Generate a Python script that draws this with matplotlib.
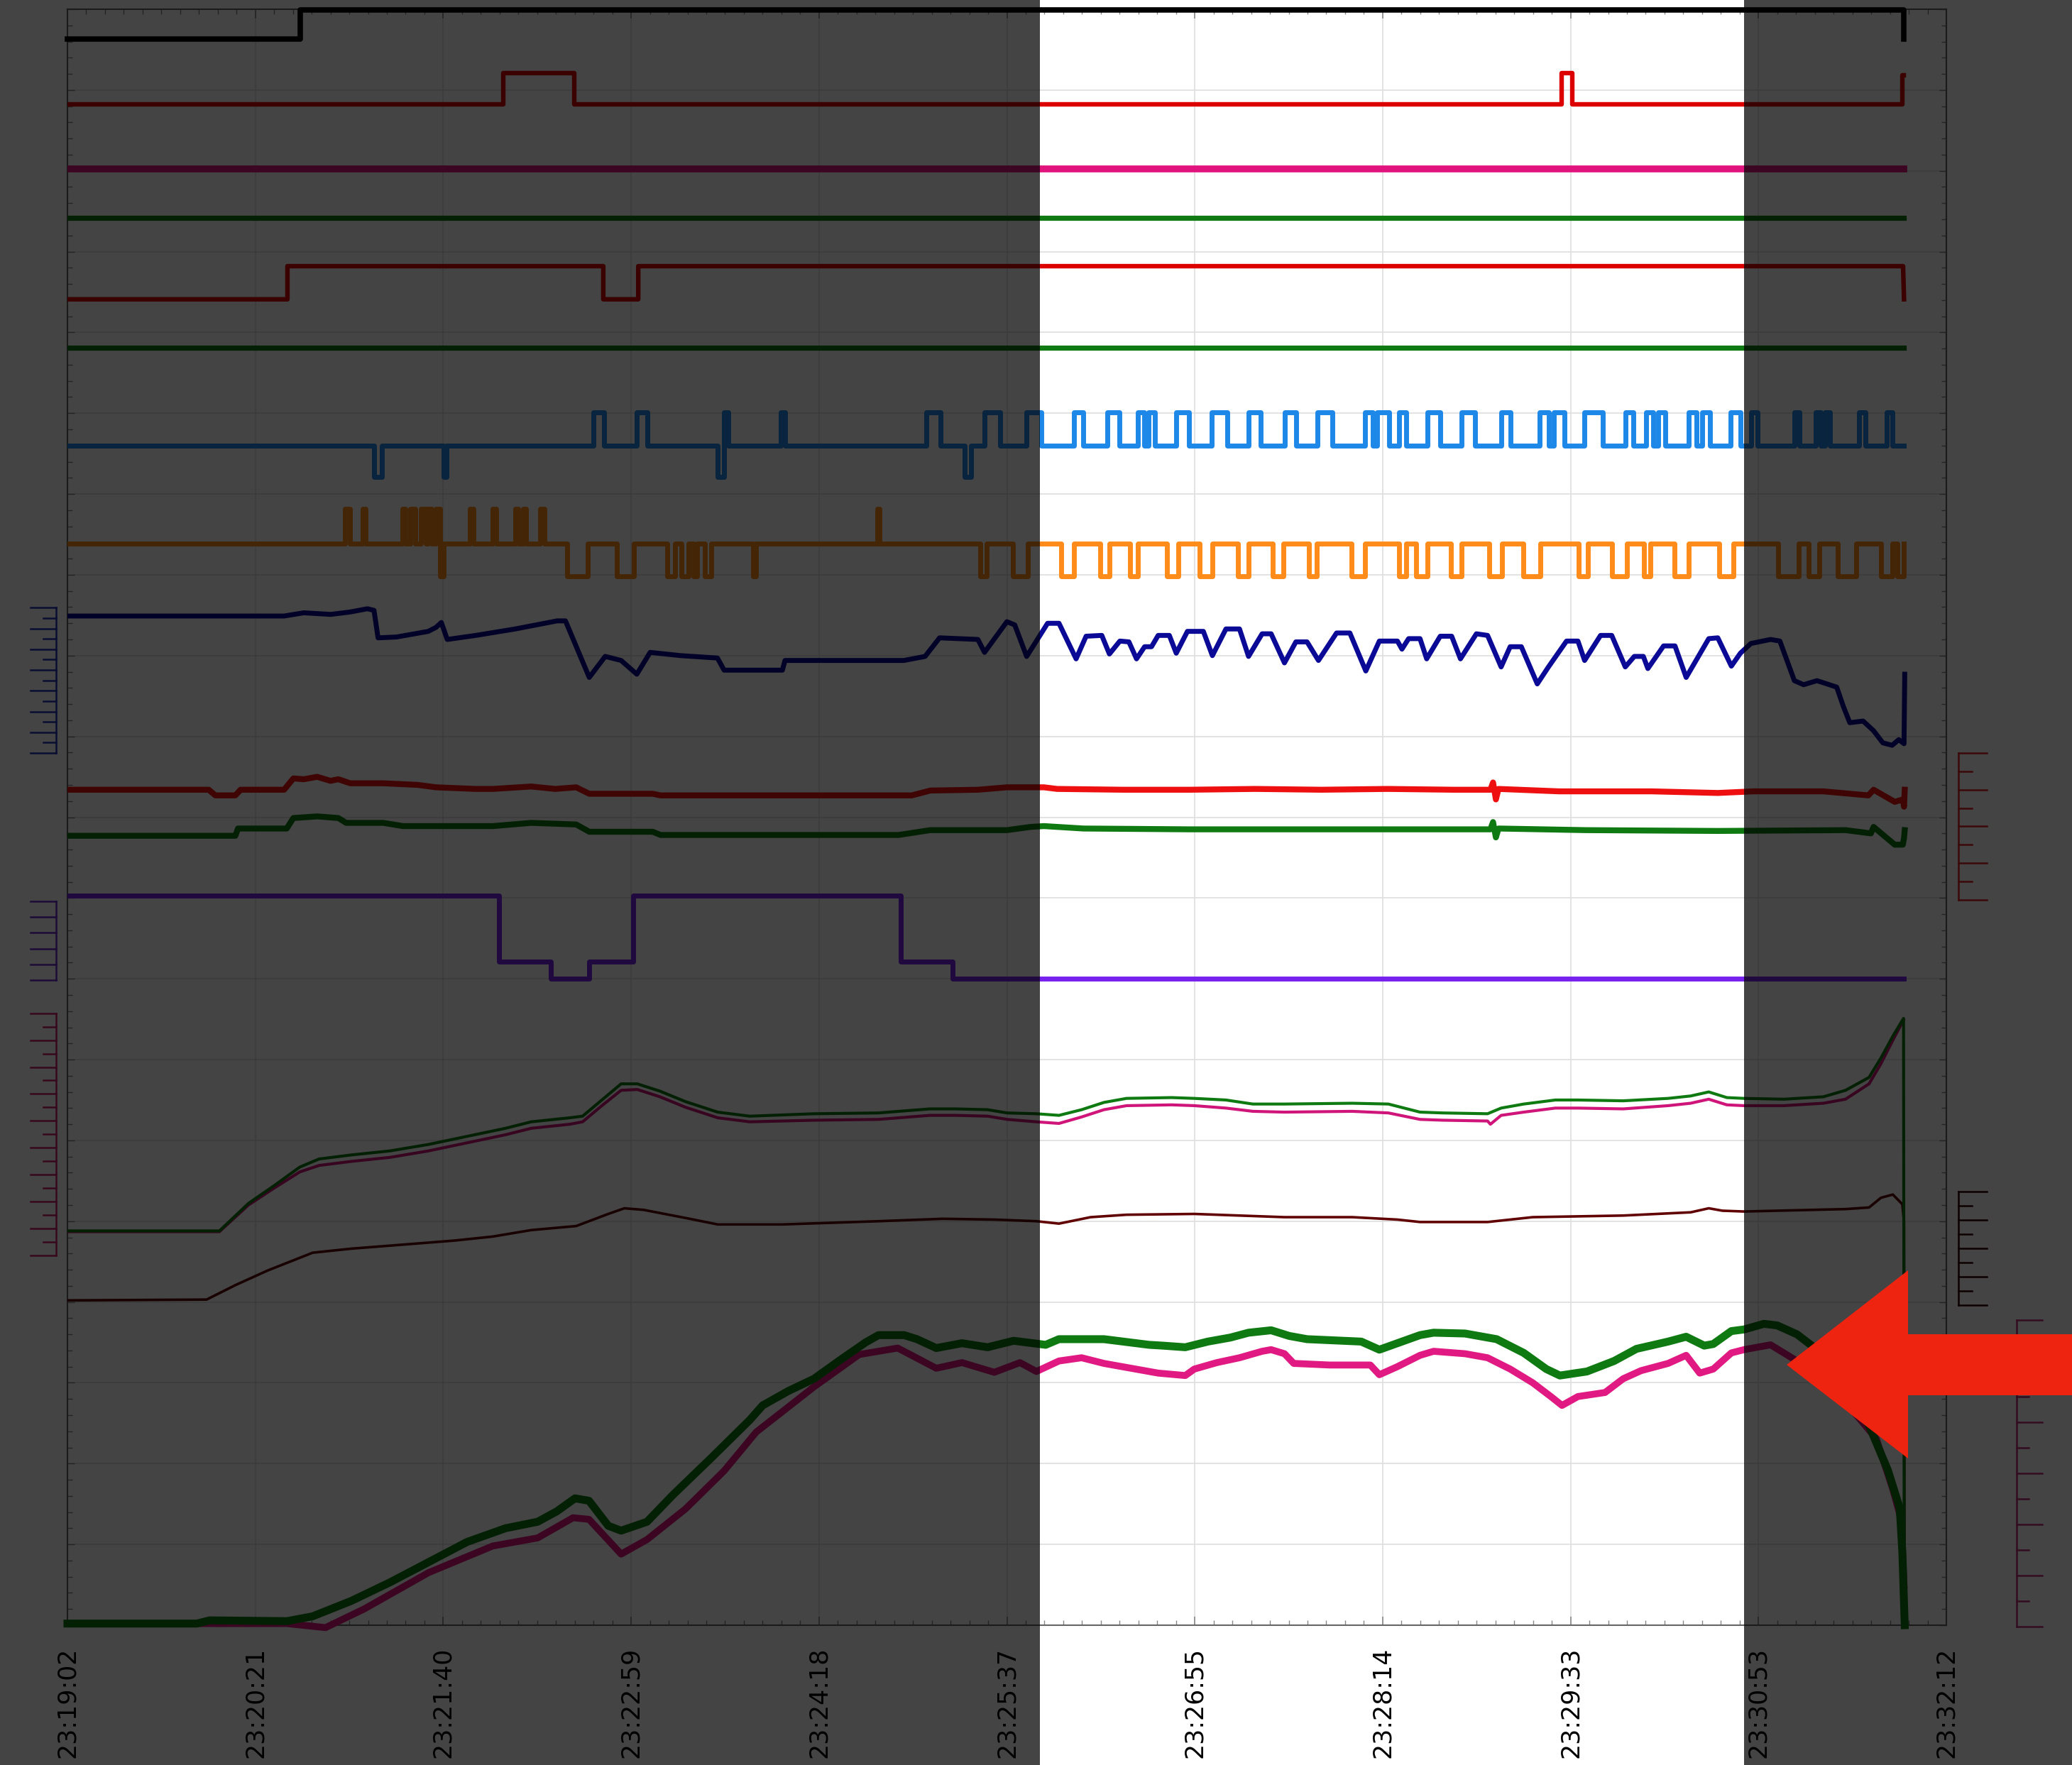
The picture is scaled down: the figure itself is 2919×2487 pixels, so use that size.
import numpy as np
import matplotlib
matplotlib.use("Agg")
import matplotlib.pyplot as plt
from matplotlib.patches import Rectangle, Polygon
from matplotlib.lines import Line2D
from matplotlib.ticker import MultipleLocator

plt.rcParams['font.family'] = ['DejaVu Sans']

# ====================== DATA (time in s after 23:19:02, level in grid divisions) ======================
tick_seconds = [0, 79, 158, 237, 316, 395, 474, 553, 632, 711, 790]
tick_labels = ['23:19:02', '23:20:21', '23:21:40', '23:22:59', '23:24:18', '23:25:37',
               '23:26:55', '23:28:14', '23:29:33', '23:30:53', '23:32:12']
t_end = 772.2

# digital traces (edge times / levels)
black_t = [0, 97.8, 97.8, 772.2, 772.2]
black_v = [19.63, 19.63, 19.99, 19.99, 19.63]

red1_t = [0, 183.3, 183.3, 213.2, 213.2, 628.3, 628.3, 632.8, 632.8, 771.6, 771.6, 772.2]
red1_v = [18.82, 18.82, 19.21, 19.21, 18.82, 18.82, 19.21, 19.21, 18.82, 18.82, 19.18, 19.18]

magenta_flat = 18.02
green_flat_a = 17.42
green_flat_b = 15.81

red2_t = [0, 92.5, 92.5, 225.3, 225.3, 240.0, 240.0, 771.8, 772.2]
red2_v = [16.41, 16.41, 16.82, 16.82, 16.41, 16.41, 16.82, 16.82, 16.41]

blue_base, blue_hi, blue_lo = 14.60, 15.01, 14.21
blue_up_start = [221.1, 239.4, 276.1, 300.0, 361.1, 385.6, 403.3, 423.3, 437.2, 450.0, 454.4, 466.1,
                 481.1, 496.7, 511.7, 525.6, 545.6, 550.6, 560.0, 571.7, 586.1, 602.8, 618.9, 625.0,
                 637.8, 655.0, 663.9, 668.9, 681.7, 687.2, 699.4, 707.8, 726.1, 735.0, 738.9, 753.3, 765.0]
blue_up_end = [225.6, 243.9, 277.8, 301.7, 367.2, 392.2, 409.4, 427.2, 442.2, 452.8, 457.2, 471.7,
               487.8, 501.7, 516.7, 531.7, 548.9, 555.6, 562.8, 577.2, 591.7, 606.7, 622.8, 629.4,
               645.6, 658.3, 666.7, 671.7, 685.0, 690.6, 703.3, 710.6, 728.3, 737.2, 741.1, 756.1, 767.2]
blue_dn_start = [128.9, 158.3, 273.3, 377.2]
blue_dn_end = [132.2, 159.4, 276.1, 380.0]

orange_base, orange_hi, orange_lo = 13.39, 13.82, 12.98
orange_up_start = [116.7, 124.2, 140.8, 144.2, 148.6, 151.7, 155.0, 169.2, 178.9, 188.3, 191.7, 198.9, 340.6]
orange_up_end = [118.9, 125.3, 142.2, 146.1, 150.6, 153.1, 156.7, 170.6, 180.3, 189.4, 192.8, 200.6, 341.4]
orange_dn_start = [156.7, 210.0, 231.1, 252.2, 258.3, 263.3, 268.1, 288.3, 383.9, 397.5, 417.8, 434.2,
                   446.7, 462.2, 476.1, 492.2, 506.7, 521.9, 539.8, 560.0, 567.2, 581.7, 597.8, 612.2,
                   635.4, 649.4, 662.8, 675.6, 694.4, 719.2, 732.2, 744.4, 762.5, 769.4]
orange_dn_end = [158.3, 218.9, 238.3, 255.6, 261.1, 264.7, 270.6, 289.4, 386.4, 403.9, 423.3, 438.1,
                 450.0, 467.2, 481.4, 496.7, 511.1, 525.3, 545.6, 562.8, 571.7, 586.1, 603.3, 619.4,
                 639.4, 655.6, 665.6, 681.7, 700.6, 727.8, 736.7, 752.2, 767.2, 772.2]

# analog traces
navy_t = [0, 91.1, 99.4, 110.6, 118.9, 126.1, 128.9, 130.6, 138.3, 151.7, 155.0, 157.2, 159.7, 171.7,
          188.3, 205.9, 209.4, 219.4, 226.1, 232.8, 239.4, 245.0, 257.8, 273.3, 276.1, 300.6, 301.7,
          351.7, 360.6, 366.7, 382.8, 385.6, 395.0, 398.3, 403.3, 407.4, 412.1, 416.9, 424.1, 428.3,
          434.9, 438.1, 442.5, 446.3, 449.5, 452.9, 455.8, 458.6, 463.3, 466.2, 470.9, 477.6, 481.4,
          487.1, 492.8, 496.6, 502.3, 506.1, 511.7, 516.5, 521.2, 526.0, 533.6, 539.2, 545.9, 551.6,
          559.2, 561.1, 563.9, 568.7, 571.5, 577.2, 582.0, 585.7, 592.4, 597.1, 602.8, 606.6, 611.3,
          618.0, 622.7, 630.3, 635.1, 637.9, 644.6, 649.3, 655.0, 658.8, 662.6, 664.5, 671.1, 675.9,
          680.6, 690.1, 693.9, 699.6, 703.4, 707.8, 716.1, 720.0, 726.1, 730.0, 735.6, 743.9, 746.7,
          749.4, 755.0, 759.4, 763.3, 767.2, 770.0, 772.2, 772.5]
navy_v = [12.49, 12.49, 12.53, 12.51, 12.54, 12.58, 12.56, 12.22, 12.23, 12.30, 12.35, 12.41, 12.20, 12.25,
          12.33, 12.43, 12.43, 11.73, 11.99, 11.94, 11.77, 12.04, 12.00, 11.97, 11.82, 11.82, 11.94,
          11.94, 11.99, 12.22, 12.20, 12.04, 12.42, 12.38, 11.99, 12.18, 12.40, 12.40, 11.96, 12.24,
          12.25, 12.02, 12.18, 12.17, 11.96, 12.11, 12.11, 12.25, 12.25, 12.03, 12.30, 12.30, 12.00,
          12.33, 12.33, 11.99, 12.27, 12.27, 11.91, 12.17, 12.17, 11.94, 12.28, 12.28, 11.81, 12.18,
          12.18, 12.08, 12.21, 12.21, 11.96, 12.24, 12.24, 11.96, 12.27, 12.25, 11.86, 12.11, 12.11,
          11.65, 11.86, 12.18, 12.18, 11.94, 12.25, 12.25, 11.86, 11.99, 11.99, 11.84, 12.12, 12.12,
          11.73, 12.21, 12.22, 11.87, 12.03, 12.15, 12.20, 12.18, 11.69, 11.64, 11.69, 11.61, 11.37,
          11.17, 11.19, 11.07, 10.92, 10.89, 10.96, 10.91, 11.77]

red_t = [0, 59.4, 62.2, 70.6, 72.8, 91.1, 95.0, 99.4, 105.0, 110.6, 113.9, 118.9, 132.8, 147.2, 155.0,
         171.7, 178.9, 195.0, 205.0, 213.9, 219.4, 246.1, 249.4, 305.0, 355.0, 362.8, 382.8, 395.0,
         410.6, 416.1, 443.9, 471.7, 499.4, 527.2, 555.0, 582.8, 598.3, 599.4, 600.6, 601.7, 627.2,
         666.1, 693.9, 708.9, 738.3, 757.2, 759.4, 768.3, 771.7, 772.2, 772.5]
red_v = [10.34, 10.34, 10.27, 10.27, 10.34, 10.34, 10.48, 10.47, 10.50, 10.45, 10.47, 10.42, 10.42, 10.40,
         10.37, 10.35, 10.35, 10.38, 10.35, 10.37, 10.29, 10.29, 10.27, 10.27, 10.27, 10.33, 10.34,
         10.37, 10.37, 10.35, 10.34, 10.34, 10.35, 10.34, 10.35, 10.34, 10.34, 10.43, 10.22, 10.35,
         10.32, 10.32, 10.30, 10.32, 10.32, 10.27, 10.34, 10.19, 10.22, 10.13, 10.34]

grn_t = [0, 70.6, 71.7, 92.2, 95.0, 105.0, 113.9, 117.2, 132.8, 141.1, 178.9, 195.0, 213.9, 219.4, 246.1,
         249.4, 349.4, 362.8, 395.0, 405.0, 410.6, 427.2, 471.7, 527.2, 598.3, 599.4, 600.6, 601.7,
         638.3, 693.9, 747.6, 758.3, 759.4, 768.3, 771.7, 772.2, 772.5]
grn_v = [9.77, 9.77, 9.86, 9.86, 9.99, 10.01, 9.99, 9.93, 9.93, 9.89, 9.89, 9.93, 9.91, 9.82, 9.82, 9.78,
         9.78, 9.84, 9.84, 9.88, 9.89, 9.86, 9.85, 9.85, 9.85, 9.94, 9.75, 9.86, 9.84, 9.83, 9.84, 9.80,
         9.88, 9.66, 9.66, 9.74, 9.84]

purple_t = [0, 181.4, 181.4, 203.1, 203.1, 219.4, 219.4, 237.8, 237.8, 350.4, 350.4, 372.1, 372.1, 772.2]
purple_v = [9.03, 9.03, 8.21, 8.21, 8.00, 8.00, 8.21, 8.21, 9.03, 9.03, 8.21, 8.21, 8.00, 8.00]

tg_t = [0, 63.9, 76.1, 86.9, 97.7, 105.8, 119.3, 135.6, 151.8, 168.0, 184.2, 195.0, 211.2, 216.6, 224.7,
        232.8, 239.6, 249.1, 259.9, 273.4, 286.9, 313.9, 341.0, 362.6, 373.4, 386.9, 395.1, 407.4, 416.9,
        426.4, 435.8, 445.3, 464.3, 473.8, 487.1, 498.4, 511.7, 540.2, 555.4, 568.7, 578.2, 597.1, 602.8,
        612.3, 625.6, 635.1, 654.1, 673.0, 682.5, 690.1, 697.7, 704.9, 721.7, 738.3, 747.6, 757.5, 762.5,
        767.5, 772.0, 772.3]
tg_v = [4.88, 4.88, 5.22, 5.44, 5.67, 5.77, 5.82, 5.87, 5.95, 6.05, 6.15, 6.23, 6.28, 6.30, 6.50, 6.70,
        6.70, 6.61, 6.48, 6.35, 6.30, 6.33, 6.34, 6.39, 6.39, 6.38, 6.34, 6.33, 6.31, 6.38, 6.47, 6.52,
        6.53, 6.52, 6.50, 6.45, 6.45, 6.46, 6.45, 6.35, 6.34, 6.33, 6.40, 6.45, 6.50, 6.50, 6.49, 6.52,
        6.55, 6.60, 6.53, 6.52, 6.51, 6.54, 6.62, 6.78, 7.02, 7.29, 7.51, 0.0]

tm_t = [0, 63.9, 76.1, 86.9, 97.7, 105.8, 119.3, 135.6, 151.8, 168.0, 184.2, 195.0, 211.2, 216.6, 224.7,
        232.8, 239.6, 249.1, 259.9, 273.4, 286.9, 313.9, 341.0, 362.6, 373.4, 386.9, 395.1, 407.4, 416.9,
        426.4, 435.8, 445.3, 464.3, 473.8, 487.1, 498.4, 511.7, 540.2, 555.4, 568.7, 578.2, 597.1, 598.3,
        602.8, 612.3, 625.6, 635.1, 654.1, 673.0, 682.5, 690.1, 697.7, 704.9, 721.7, 738.3, 747.6, 757.5,
        762.5, 767.5, 772.0]
tm_v = [4.87, 4.87, 5.20, 5.41, 5.61, 5.69, 5.74, 5.79, 5.87, 5.97, 6.07, 6.15, 6.20, 6.23, 6.43, 6.62,
        6.63, 6.54, 6.41, 6.28, 6.23, 6.25, 6.26, 6.31, 6.31, 6.30, 6.26, 6.23, 6.21, 6.29, 6.38, 6.43,
        6.44, 6.43, 6.40, 6.36, 6.35, 6.36, 6.34, 6.26, 6.25, 6.24, 6.20, 6.31, 6.35, 6.40, 6.40, 6.39,
        6.43, 6.46, 6.51, 6.44, 6.43, 6.43, 6.46, 6.51, 6.70, 6.95, 7.24, 7.49]

mr_t = [0, 58.5, 70.7, 84.2, 103.1, 119.3, 141.0, 162.6, 178.8, 195.0, 213.9, 227.4, 234.2, 242.3, 259.9,
        273.4, 300.4, 341.0, 368.0, 389.7, 407.4, 416.9, 430.2, 445.3, 473.8, 492.8, 511.7, 540.2, 559.2,
        568.7, 597.1, 616.1, 635.1, 654.1, 682.5, 690.1, 695.8, 704.9, 747.6, 757.5, 762.5, 767.5, 771.5,
        772.2, 772.4]
mr_v = [4.02, 4.03, 4.21, 4.39, 4.61, 4.66, 4.71, 4.76, 4.81, 4.89, 4.94, 5.09, 5.16, 5.14, 5.04, 4.96,
        4.96, 5.00, 5.03, 5.02, 5.00, 4.97, 5.05, 5.08, 5.09, 5.07, 5.05, 5.05, 5.02, 4.99, 4.99, 5.05,
        5.06, 5.07, 5.11, 5.16, 5.13, 5.12, 5.15, 5.17, 5.29, 5.33, 5.21, 4.99, 0.0]

bg_t = [0, 54.4, 59.8, 92.3, 103.1, 119.3, 135.6, 151.8, 168.0, 184.2, 197.7, 205.8, 213.4, 219.3, 227.4,
        232.8, 243.7, 254.5, 270.7, 286.9, 292.3, 303.2, 313.9, 324.8, 335.6, 341.0, 351.8, 357.2, 365.3,
        376.1, 386.9, 397.8, 405.9, 411.3, 416.9, 435.8, 454.8, 460.5, 470.0, 479.5, 489.0, 496.6, 506.1,
        513.7, 521.2, 544.0, 551.6, 559.2, 568.7, 574.4, 587.6, 600.9, 612.3, 621.8, 627.5, 638.9, 650.3,
        659.7, 673.0, 680.6, 688.2, 692.0, 699.6, 704.9, 713.3, 718.9, 727.2, 738.3, 749.4, 757.8, 765.4,
        770.4, 771.5, 772.5]
bg_v = [0.02, 0.02, 0.06, 0.05, 0.11, 0.30, 0.53, 0.78, 1.03, 1.20, 1.28, 1.41, 1.57, 1.54, 1.23, 1.17,
        1.28, 1.61, 2.07, 2.54, 2.72, 2.90, 3.05, 3.28, 3.50, 3.59, 3.59, 3.54, 3.43, 3.49, 3.44, 3.52,
        3.49, 3.47, 3.54, 3.54, 3.47, 3.46, 3.44, 3.51, 3.56, 3.62, 3.65, 3.58, 3.54, 3.51, 3.41, 3.49,
        3.59, 3.62, 3.61, 3.54, 3.37, 3.17, 3.09, 3.14, 3.27, 3.42, 3.51, 3.57, 3.46, 3.48, 3.64, 3.66,
        3.73, 3.71, 3.60, 3.35, 2.94, 2.45, 1.92, 1.45, 0.90, 0.0]

bm_t = [0, 92.3, 108.5, 124.7, 151.8, 178.8, 197.7, 212.6, 219.3, 232.8, 243.7, 259.9, 276.1, 289.6, 313.9,
        332.9, 349.1, 365.3, 376.1, 389.7, 400.5, 407.4, 416.9, 426.4, 435.8, 445.3, 458.6, 470.0, 473.8,
        483.3, 492.8, 502.3, 506.1, 511.7, 515.6, 530.7, 547.8, 551.6, 559.2, 568.7, 574.4, 587.6, 597.1,
        606.6, 616.1, 623.7, 628.4, 635.1, 646.5, 654.1, 661.6, 673.0, 680.6, 686.3, 692.0, 699.6, 704.9,
        716.1, 727.2, 738.3, 749.4, 760.5, 767.5, 771.0, 772.2]
bm_v = [0.02, 0.02, -0.03, 0.20, 0.65, 0.98, 1.08, 1.33, 1.31, 0.88, 1.06, 1.44, 1.91, 2.39, 2.95, 3.35,
        3.43, 3.18, 3.25, 3.13, 3.25, 3.14, 3.27, 3.31, 3.24, 3.19, 3.12, 3.09, 3.17, 3.25, 3.31, 3.39,
        3.41, 3.36, 3.24, 3.22, 3.22, 3.10, 3.20, 3.34, 3.39, 3.36, 3.31, 3.17, 3.00, 2.83, 2.72, 2.83,
        2.88, 3.05, 3.15, 3.24, 3.34, 3.12, 3.17, 3.37, 3.41, 3.47, 3.27, 3.03, 2.70, 2.31, 1.68, 1.31, 0.49]

# ====================== FIGURE ======================
W, H, DPI = 2919, 2487, 100
fig = plt.figure(figsize=(W / DPI, H / DPI), dpi=DPI, facecolor='white')
ax = fig.add_axes([95 / W, 1 - 2290 / H, (2742 - 95) / W, (2290 - 13) / H])
ax.set_facecolor('white')
ax.set_xlim(0, 790)
ax.set_ylim(0, 20)


def pulse_trace(base, end, pulses):
    ts, vs = [0.0], [base]
    for s, e, lv in sorted(pulses):
        ts += [s, s, e, e]
        vs += [base, lv, lv, base]
    ts.append(end)
    vs.append(base)
    return ts, vs


C_GREEN = '#0f7a12'
C_MAG = '#e0147c'

ax.plot(black_t, black_v, color='black', lw=5.5, clip_on=False, zorder=5)
ax.plot(red1_t, red1_v, color='#dd0000', lw=4.6, zorder=5)
ax.plot([0, t_end], [magenta_flat] * 2, color=C_MAG, lw=7.0, zorder=5)
ax.plot([0, t_end], [green_flat_a] * 2, color=C_GREEN, lw=5.2, zorder=5)
ax.plot(red2_t, red2_v, color='#dd0000', lw=4.6, zorder=5)
ax.plot([0, t_end], [green_flat_b] * 2, color=C_GREEN, lw=5.2, zorder=5)

bp = list(zip(blue_up_start, blue_up_end, [blue_hi] * len(blue_up_start))) + \
     list(zip(blue_dn_start, blue_dn_end, [blue_lo] * len(blue_dn_start)))
bt, bv = pulse_trace(blue_base, t_end, bp)
ax.plot(bt, bv, color='#1e88e8', lw=5.0, zorder=5)

op = list(zip(orange_up_start, orange_up_end, [orange_hi] * len(orange_up_start))) + \
     list(zip(orange_dn_start, orange_dn_end, [orange_lo] * len(orange_dn_start)))
ot, ov = pulse_trace(orange_base, t_end, op)
ax.plot(ot, ov, color='#ff8c1a', lw=5.0, zorder=5)

ax.plot(navy_t, navy_v, color='#0a0a96', lw=5.0, zorder=5)
ax.plot(red_t, red_v, color='#ee1010', lw=6.0, zorder=5)
ax.plot(grn_t, grn_v, color=C_GREEN, lw=6.0, zorder=5)
ax.plot(purple_t, purple_v, color='#7722ee', lw=5.0, zorder=5)

ax.plot(tm_t, tm_v, color='#d0157a', lw=3.0, zorder=5)
ax.plot(tg_t, tg_v, color=C_GREEN, lw=3.0, zorder=6)
ax.plot(mr_t, mr_v, color='#600000', lw=2.6, zorder=5)
ax.plot(bm_t, bm_v, color='#e01a82', lw=7.0, zorder=5, clip_on=False)
ax.plot(bg_t, bg_v, color=C_GREEN, lw=8.0, zorder=6, clip_on=False)

# axes styling
ax.set_xticks(tick_seconds)
ax.set_xticklabels(tick_labels, rotation=90, fontsize=25, color='black')
ax.xaxis.set_minor_locator(MultipleLocator(7.9))
ax.yaxis.set_major_locator(MultipleLocator(1))
ax.yaxis.set_minor_locator(MultipleLocator(0.2))
ax.set_yticklabels([])
ax.tick_params(axis='both', which='both', direction='in', top=True, right=True, colors='#888888')
ax.tick_params(axis='x', which='major', length=9, width=1.2, pad=22, labelcolor='black')
ax.tick_params(axis='x', which='minor', length=5, width=1.0)
ax.tick_params(axis='y', which='major', length=7, width=1.0)
ax.tick_params(axis='y', which='minor', length=5, width=1.0)
ax.grid(True, which='major', color='#dedede', lw=1.2, zorder=0)
ax.set_axisbelow(True)
for s in ax.spines.values():
    s.set_color('#666666')
    s.set_linewidth(1.5)

# ---- small scale brackets (layout, shrunk-reference px -> figure) ----
K = W / 1568.0


def fx(x):
    return x * K / W


def fy(y):
    return 1 - y * K / H


def bracket(spine_x, long_x, short_x, y0, y1, n, minor, color):
    arts = [Line2D([fx(spine_x)] * 2, [fy(y0), fy(y1)])]
    for i in range(n + 1):
        y = y0 + (y1 - y0) * i / n
        arts.append(Line2D([fx(spine_x), fx(long_x)], [fy(y)] * 2))
        if minor and i < n:
            ym = y + (y1 - y0) / n / 2
            arts.append(Line2D([fx(spine_x), fx(short_x)], [fy(ym)] * 2))
    for a in arts:
        a.set_transform(fig.transFigure)
        a.set_color(color)
        a.set_linewidth(1.8)
        a.set_zorder(50)
        fig.add_artist(a)


bracket(42.6, 23, 33, 460, 570, 7, True, '#2233bb')
bracket(42.6, 23, 33, 682, 742, 5, False, '#6a2ad0')
bracket(42.6, 23, 33, 767, 950, 9, True, '#d0206a')
bracket(1482, 1503.5, 1492, 570, 681, 4, True, '#dd2222')
bracket(1482, 1503.5, 1492, 902, 988, 4, True, '#330000')
bracket(1526, 1545.6, 1535, 999, 1231, 6, True, '#c0307a')

# ---- dimming overlay outside highlighted window ----
fig.add_artist(Rectangle((0, 0), 1465 / W, 1, transform=fig.transFigure,
                         facecolor='black', edgecolor='none', alpha=0.733, zorder=100))
fig.add_artist(Rectangle((2457 / W, 0), 1 - 2457 / W, 1, transform=fig.transFigure,
                         facecolor='black', edgecolor='none', alpha=0.733, zorder=100))

# ---- red pointer arrow ----
arrow_px = [(2517, 1923), (2688, 1790), (2688, 1880), (2919, 1880),
            (2919, 1966), (2688, 1966), (2688, 2055)]
fig.add_artist(Polygon([(x / W, 1 - y / H) for x, y in arrow_px], closed=True,
                       transform=fig.transFigure, facecolor='#ef2410',
                       edgecolor='none', zorder=110))

fig.savefig('out.png', dpi=DPI, facecolor='white')
